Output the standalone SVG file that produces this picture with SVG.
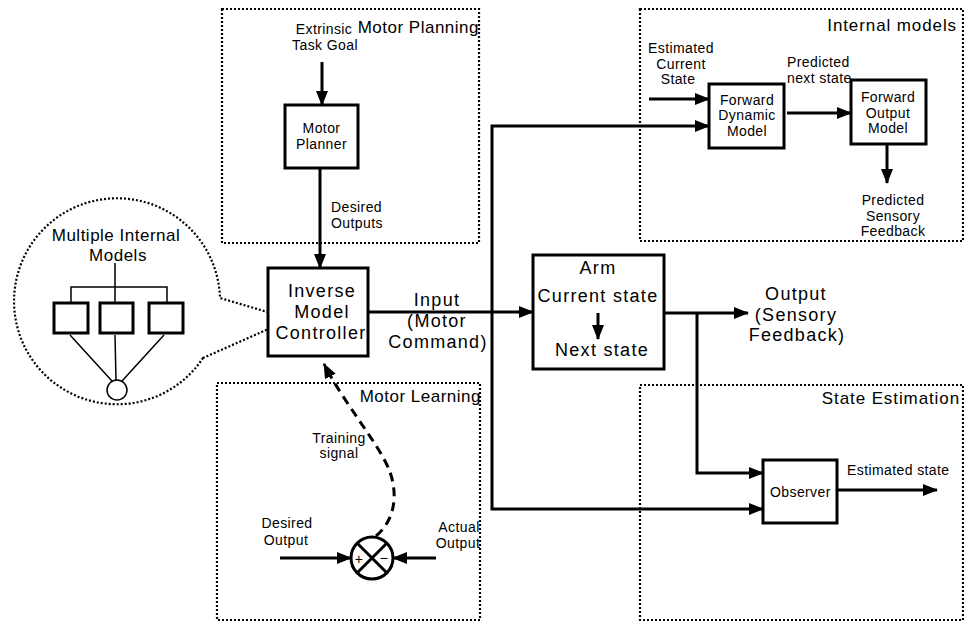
<svg xmlns="http://www.w3.org/2000/svg" width="964" height="621" viewBox="0 0 964 621">
<style>
text{font-family:"Liberation Sans",Arial,sans-serif;fill:#000}
.s{font-size:14px;letter-spacing:0.4px}
.m{font-size:18px;letter-spacing:1.3px}
.t{font-size:17px;letter-spacing:0.5px}
.c{text-anchor:middle}
.e{text-anchor:end}
.box{fill:#fff;stroke:#000;stroke-width:3}
.dot{fill:none;stroke:#000;stroke-width:2.2;stroke-dasharray:2 2}
.ln{fill:none;stroke:#000;stroke-width:3}
.thin{fill:none;stroke:#000;stroke-width:1.5}
</style>
<defs>
<marker id="ah" markerUnits="userSpaceOnUse" markerWidth="15" markerHeight="12" refX="14" refY="6" orient="auto">
<path d="M0,0 L15,6 L0,12 z" fill="#000"/>
</marker>
</defs>

<g id="motor-planning">
<rect class="dot" x="222" y="9" width="257" height="234"/>
<text class="t e" x="479" y="33">Motor Planning</text>
<text class="s c" x="324" y="34">Extrinsic</text>
<text class="s c" x="325" y="50">Task Goal</text>
<text class="s" x="331" y="212">Desired</text>
<text class="s" x="331" y="228">Outputs</text>
</g>

<g id="motor-planner">
<rect class="box" x="285" y="105" width="73" height="63"/>
<text class="s c" x="321.5" y="133">Motor</text>
<text class="s c" x="321.5" y="149">Planner</text>
</g>

<g id="internal-models">
<rect class="dot" x="640" y="9" width="323" height="232"/>
<text class="t e" x="957" y="31" style="letter-spacing:0.9px">Internal models</text>
<text class="s c" x="681" y="53">Estimated</text>
<text class="s c" x="681" y="69">Current</text>
<text class="s c" x="678" y="84">State</text>
<text class="s" x="787" y="67">Predicted</text>
<text class="s" x="787" y="83">next state</text>
<text class="s c" x="893" y="205">Predicted</text>
<text class="s c" x="893" y="221">Sensory</text>
<text class="s c" x="893" y="236">Feedback</text>
</g>

<g id="forward-dynamic-model">
<rect class="box" x="709" y="84" width="75" height="64"/>
<text class="s c" x="747" y="105">Forward</text>
<text class="s c" x="747" y="120">Dynamic</text>
<text class="s c" x="747" y="136">Model</text>
</g>

<g id="forward-output-model">
<rect class="box" x="851" y="80" width="75" height="64"/>
<text class="s c" x="888" y="102">Forward</text>
<text class="s c" x="888" y="118">Output</text>
<text class="s c" x="888" y="133">Model</text>
</g>

<g id="multiple-internal-models">
<path class="dot" d="M203,358 A103,103 0 1 1 220,298 L291,319 Z"/>
<text class="t c" x="116" y="241">Multiple Internal</text>
<text class="t c" x="118" y="261">Models</text>
<path class="thin" d="M115,263 V287 M71,303 V287 H167 V303 M115,287 V303"/>
<rect x="54" y="303" width="34" height="30" fill="#fff" stroke="#000" stroke-width="3"/>
<rect x="100" y="303" width="33" height="30" fill="#fff" stroke="#000" stroke-width="3"/>
<rect x="149" y="303" width="34" height="30" fill="#fff" stroke="#000" stroke-width="3"/>
<path class="thin" d="M70,335 L112,381 M115,335 L116,380 M164,335 L122,381"/>
<circle cx="117" cy="390" r="10" fill="#fff" stroke="#000" stroke-width="1.5"/>
</g>

<g id="inverse-model-controller">
<rect class="box" x="268" y="268" width="100" height="88"/>
<text class="m c" x="322" y="297">Inverse</text>
<text class="m c" x="322" y="318">Model</text>
<text class="m c" x="321" y="339">Controller</text>
</g>

<g id="input-label">
<text class="m c" x="437" y="306">Input</text>
<text class="m c" x="437" y="327">(Motor</text>
<text class="m c" x="438" y="348">Command)</text>
</g>

<g id="arm">
<rect class="box" x="533" y="255" width="131" height="114"/>
<text class="m c" x="598" y="274">Arm</text>
<text class="m c" x="598" y="302">Current state</text>
<text class="m c" x="602" y="356">Next state</text>
</g>

<g id="output-label">
<text class="m c" x="796" y="300">Output</text>
<text class="m c" x="796" y="321">(Sensory</text>
<text class="m c" x="797" y="341">Feedback)</text>
</g>

<g id="state-estimation">
<rect class="dot" x="640" y="385" width="323" height="235"/>
<text class="t e" x="960" y="404" style="letter-spacing:0.9px">State Estimation</text>
<text class="s" x="847" y="475">Estimated state</text>
</g>

<g id="observer">
<rect class="box" x="763" y="460" width="74" height="63"/>
<text class="s" x="770" y="497">Observer</text>
</g>

<g id="motor-learning">
<rect class="dot" x="217" y="383" width="263" height="237"/>
<text class="t e" x="481" y="402">Motor Learning</text>
<text class="s c" x="339" y="443">Training</text>
<text class="s c" x="339" y="458">signal</text>
<text class="s c" x="287" y="528">Desired</text>
<text class="s c" x="286" y="545">Output</text>
<text class="s c" x="459" y="532">Actual</text>
<text class="s c" x="458" y="548">Output</text>
</g>

<g id="comparator">
<circle cx="372" cy="558" r="21" fill="#fff" stroke="#000" stroke-width="3"/>
<path class="ln" d="M357,543 L387,573 M387,543 L357,573" stroke-width="2.5"/>
<text class="s c" x="359" y="564">+</text>
<text class="s c" x="384" y="563">−</text>
</g>

<g id="connectors">
<path class="ln" d="M322,62 V105" marker-end="url(#ah)"/>
<path class="ln" d="M320,168 V268" marker-end="url(#ah)"/>
<path class="ln" d="M368,312 H533" marker-end="url(#ah)"/>
<path class="ln" d="M492,312 V126 H709" marker-end="url(#ah)"/>
<path class="ln" d="M492,312 V509 H763" marker-end="url(#ah)"/>
<path class="ln" d="M664,313 H748" marker-end="url(#ah)"/>
<path class="ln" d="M697,313 V473 H763" marker-end="url(#ah)"/>
<path class="ln" d="M837,490 H937" marker-end="url(#ah)"/>
<path class="ln" d="M649,99 H709" marker-end="url(#ah)"/>
<path class="ln" d="M787,113 H851" marker-end="url(#ah)"/>
<path class="ln" d="M887,144 V183" marker-end="url(#ah)"/>
<path class="ln" d="M598,313 V339" stroke-width="2" marker-end="url(#ah)"/>
<path class="ln" d="M280,558 H351" marker-end="url(#ah)"/>
<path class="ln" d="M436,558 H393" marker-end="url(#ah)"/>
<path class="ln" d="M376,536 C395,520 398,495 390,472 C380,445 345,405 324,364" stroke-width="2.5" stroke-dasharray="9 6" marker-end="url(#ah)"/>
</g>
</svg>
